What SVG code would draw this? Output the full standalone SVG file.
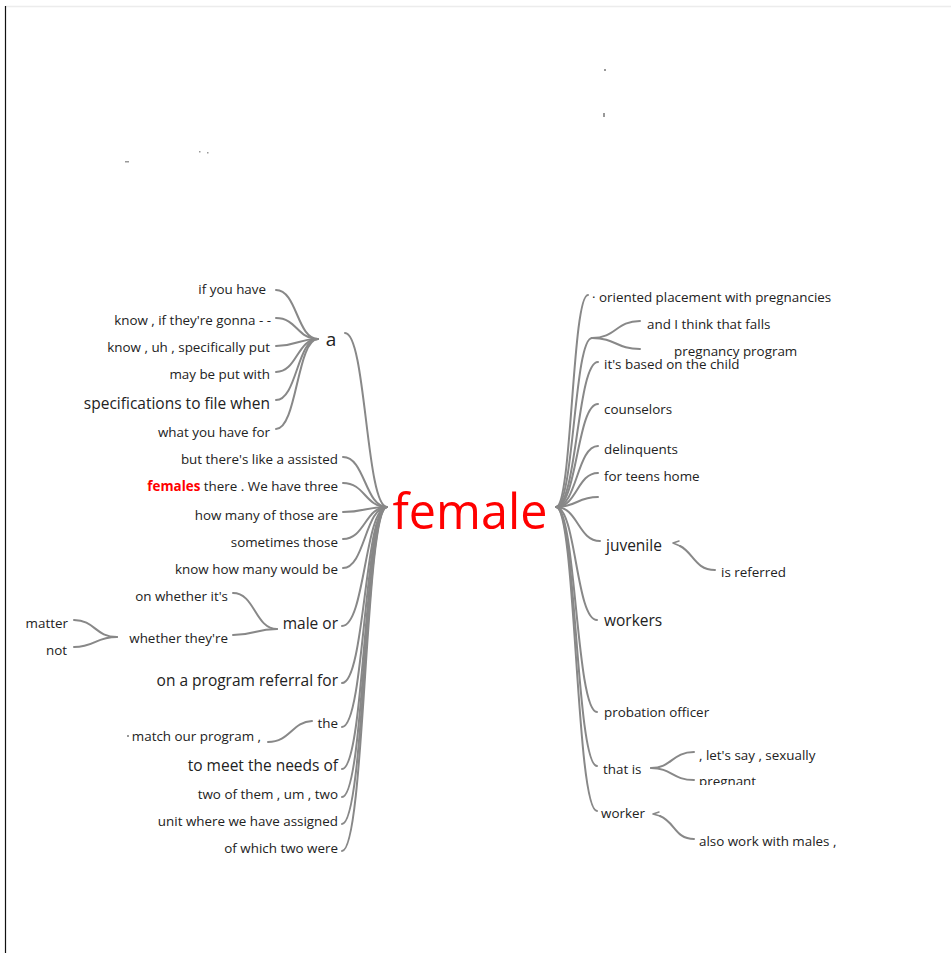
<svg xmlns="http://www.w3.org/2000/svg" width="951" height="953" viewBox="0 0 951 953">
<style>
text{font-family:"Open Sans","Noto Sans","Liberation Sans",sans-serif;fill:#222;font-size:13.4px}
.l{text-anchor:end}
.big{font-size:15.5px}
.c{fill:none;stroke:#888;stroke-width:2;stroke-linecap:round}
.speck{fill:#999}
</style>
<defs>
<clipPath id="cut"><rect x="690" y="770" width="120" height="15"/></clipPath>
</defs>
<rect width="951" height="953" fill="#fff"/>
<line x1="5" y1="6.5" x2="951" y2="6.5" stroke="#ececec" stroke-width="1.5"/>
<line x1="5.5" y1="6" x2="5.5" y2="953" stroke="#111" stroke-width="1.2"/>
<g id="specks">
<rect class="speck" x="604" y="69" width="2" height="2"/>
<rect class="speck" x="603" y="113" width="2" height="4"/>
<rect class="speck" x="125" y="161" width="4" height="1.5"/>
<rect class="speck" x="199" y="151" width="1.5" height="1.5"/>
<rect class="speck" x="207" y="152" width="1.5" height="1.5"/>
<rect class="speck" x="127" y="735" width="2" height="2"/>
</g>
<g id="connectors">
<path class="c" d="M276,290 C297,290 297,339 318,339"/>
<path class="c" d="M276,318 C297,318 297,339 318,339"/>
<path class="c" d="M276,346 C297,346 297,339 318,339"/>
<path class="c" d="M276,372 C297,372 297,339 318,339"/>
<path class="c" d="M276,400 C297,400 297,339 318,339"/>
<path class="c" d="M276,429 C297,429 297,339 318,339"/>
<path class="c" d="M345,333 C366,333 366,507 387,507"/>
<path class="c" d="M343,457 C365,457 365,507 387,507"/>
<path class="c" d="M343,483 C365,483 365,507 387,507"/>
<path class="c" d="M343,512 C365,512 365,507 387,507"/>
<path class="c" d="M343,539 C365,539 365,507 387,507"/>
<path class="c" d="M343,568 C365,568 365,507 387,507"/>
<path class="c" d="M342,626 C365,626 365,507 387,507"/>
<path class="c" d="M342,683 C365,683 365,507 387,507"/>
<path class="c" d="M342,727 C365,727 365,507 387,507"/>
<path class="c" d="M342,769 C365,769 365,507 387,507"/>
<path class="c" d="M342,797 C365,797 365,507 387,507"/>
<path class="c" d="M342,824 C365,824 365,507 387,507"/>
<path class="c" d="M342,851 C365,851 365,507 387,507"/>
<path class="c" d="M233,593 C255,593 255,629 277,629"/>
<path class="c" d="M233,635 C255,635 255,629 277,629"/>
<path class="c" d="M74,620 C95,620 95,637 117,637"/>
<path class="c" d="M74,647 C95,647 95,637 117,637"/>
<path class="c" d="M268,742 C290,742 292,722 312,721"/>
<path class="c" d="M556,507 C572,507 572,295 588,295"/>
<path class="c" d="M556,507 C574,507 574,338 592,338"/>
<path class="c" d="M556,507 C577,507 577,362 598,362"/>
<path class="c" d="M556,507 C577,507 577,404 598,404"/>
<path class="c" d="M556,507 C577,507 577,446 598,446"/>
<path class="c" d="M556,507 C577,507 577,473 598,473"/>
<path class="c" d="M556,507 C577,507 577,497 598,497"/>
<path class="c" d="M556,507 C578,507 578,541 600,541"/>
<path class="c" d="M556,507 C576,507 576,620 597,620"/>
<path class="c" d="M556,507 C576,507 576,712 597,712"/>
<path class="c" d="M556,507 C576,507 576,766 597,766"/>
<path class="c" d="M556,507 C576,507 576,811 597,811"/>
<path class="c" d="M592,338 C616,338 616,321 640,321"/>
<path class="c" d="M592,338 C616,338 616,349 640,349"/>
<path class="c" d="M651,768 C672,768 672,752 694,752"/>
<path class="c" d="M651,768 C672,768 672,780 694,780"/>
<path class="c" d="M715,570 C695,570 693,552 680,546"/>
<path class="c" d="M680,546 L673,543 M673,543 L679,541" style="stroke-width:1.5"/>
<path class="c" d="M694,839 C675,839 675,822 660,816"/>
<path class="c" d="M660,816 L653,814 M653,814 L659,812" style="stroke-width:1.5"/>
</g>
<g id="n-female"><text x="470" y="529" text-anchor="middle" style="font-size:48.5px;fill:#f00">female</text></g>
<g id="n-a"><text x="331" y="346" text-anchor="middle" style="font-size:19px">a</text></g>
<g id="n-a1"><text class="l" x="266" y="294">if you have</text></g>
<g id="n-a2"><text class="l" x="271" y="325">know , if they're gonna - -</text></g>
<g id="n-a3"><text class="l" x="270" y="352">know , uh , specifically put</text></g>
<g id="n-a4"><text class="l" x="270" y="379">may be put with</text></g>
<g id="n-a5"><text class="l big" x="270" y="409">specifications to file when</text></g>
<g id="n-a6"><text class="l" x="270" y="437">what you have for</text></g>
<g id="n-l1"><text class="l" x="338" y="464">but there's like a assisted</text></g>
<g id="n-l2"><text class="l" x="338" y="491"><tspan style="fill:#f00;font-weight:bold">females</tspan> there . We have three</text></g>
<g id="n-l3"><text class="l" x="338" y="520">how many of those are</text></g>
<g id="n-l4"><text class="l" x="338" y="547">sometimes those</text></g>
<g id="n-l5"><text class="l" x="338" y="574">know how many would be</text></g>
<g id="n-maleor"><text class="l big" x="338" y="629">male or</text></g>
<g id="n-m1"><text class="l" x="228" y="601">on whether it's</text></g>
<g id="n-m2"><text class="l" x="228" y="643">whether they're</text></g>
<g id="n-w1"><text class="l" x="68" y="628">matter</text></g>
<g id="n-w2"><text class="l" x="67" y="655">not</text></g>
<g id="n-l6"><text class="l big" x="338" y="686">on a program referral for</text></g>
<g id="n-the"><text class="l" x="338" y="728">the</text></g>
<g id="n-t1"><text class="l" x="261" y="741">match our program ,</text></g>
<g id="n-l7"><text class="l big" x="338" y="771">to meet the needs of</text></g>
<g id="n-l8"><text class="l" x="338" y="799">two of them , um , two</text></g>
<g id="n-l9"><text class="l" x="338" y="826">unit where we have assigned</text></g>
<g id="n-l10"><text class="l" x="338" y="853">of which two were</text></g>
<g id="n-r1"><text x="592" y="302">· oriented placement with pregnancies</text></g>
<g id="n-r2a"><text x="647" y="329">and I think that falls</text></g>
<g id="n-r2b"><text x="674" y="356">pregnancy program</text></g>
<g id="n-r3"><text x="604" y="369">it's based on the child</text></g>
<g id="n-r4"><text x="604" y="414">counselors</text></g>
<g id="n-r5"><text x="604" y="454">delinquents</text></g>
<g id="n-r6"><text x="604" y="481">for teens home</text></g>
<g id="n-juv"><text class="big" x="606" y="551">juvenile</text></g>
<g id="n-juv1"><text x="721" y="577">is referred</text></g>
<g id="n-workers"><text class="big" x="604" y="626">workers</text></g>
<g id="n-prob"><text x="604" y="717">probation officer</text></g>
<g id="n-thatis"><text x="603" y="774">that is</text></g>
<g id="n-ti1"><text x="699" y="760">, let's say , sexually</text></g>
<g id="n-ti2"><text x="699" y="786" clip-path="url(#cut)">pregnant</text></g>
<g id="n-worker"><text x="601" y="818">worker</text></g>
<g id="n-wk1"><text x="699" y="846">also work with males ,</text></g>
</svg>
